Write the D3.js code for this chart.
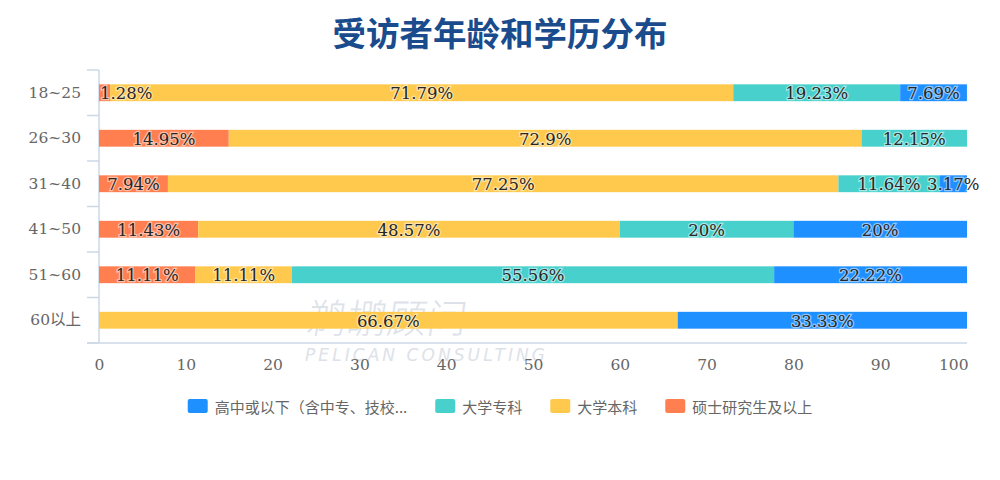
<!DOCTYPE html>
<html>
<head>
<meta charset="utf-8">
<script src="https://cdn.jsdelivr.net/npm/d3@7/dist/d3.min.js"></script>
<style>
  html, body { margin: 0; padding: 0; background: #fff; }
  svg { display: block; }
</style>
</head>
<body>
<svg id="chart" width="1000" height="480"></svg>
<script>
// ---- data ----
const categories = ["18~25", "26~30", "31~40", "41~50", "51~60", "60以上"];
const master     = [1.28, 14.95, 7.94, 11.43, 11.11, 0];      // 硕士研究生及以上
const bachelor   = [71.79, 72.9, 77.25, 48.57, 11.11, 66.67]; // 大学本科
const college    = [19.23, 12.15, 11.64, 20, 55.56, 0];       // 大学专科
const highSchool = [7.69, 0, 3.17, 20, 22.22, 33.33];         // 高中或以下
const xTicks = [0, 10, 20, 30, 40, 50, 60, 70, 80, 90, 100];
const seriesKeys = ["master", "bachelor", "college", "highSchool"];
const seriesColors = {master: "#ff7f50", bachelor: "#ffc94d", college: "#48d1cc", highSchool: "#1e90ff"};
const legendKeys = ["highSchool", "college", "bachelor", "master"];
const legendLabels = ["高中或以下（含中专、技校...", "大学专科", "大学本科", "硕士研究生及以上"];
const titleText = "受访者年龄和学历分布";

(function () {
const rows = categories.map((c, i) => ({
  cat: c, master: master[i], bachelor: bachelor[i], college: college[i], highSchool: highSchool[i]
}));

const svg = d3.select("#chart");
const pLeft = 99, pRight = 967, pTop = 70, pBottom = 343;

const x = d3.scaleLinear().domain([0, 100]).range([pLeft, pRight]);
const y = d3.scaleBand().domain(categories).range([pTop, pBottom]).padding(0);
const barH = y.bandwidth() * 0.37;

// title
svg.append("text")
  .attr("x", 500).attr("y", 31)
  .attr("text-anchor", "middle").attr("dominant-baseline", "central")
  .attr("font-family", "'Noto Sans CJK SC', sans-serif")
  .attr("font-weight", 700).attr("font-size", 33.5)
  .attr("fill", "#1a4b8c")
  .text(titleText);

const serif = "'DejaVu Serif', 'Noto Sans CJK SC', serif";
const axisColor = "#ccd8e6";

// watermark (under bars)
const wm = svg.append("g").attr("fill", "#dde2e9");
wm.append("text").attr("x", 306).attr("y", 333)
  .attr("font-family", "'Noto Sans CJK SC', sans-serif").attr("font-size", 40)
  .attr("font-weight", 300)
  .attr("transform", "translate(46,0) skewX(-8)")
  .text("鹈鹕顾问");
wm.append("text").attr("x", 305).attr("y", 361)
  .attr("font-family", "'DejaVu Sans', sans-serif").attr("font-size", 17)
  .attr("font-style", "italic")
  .attr("textLength", 240).attr("lengthAdjust", "spacing")
  .text("PELICAN CONSULTING");

// bottom axis (line + labels, no ticks)
const xAxis = svg.append("g").attr("transform", `translate(0,${pBottom})`)
  .call(d3.axisBottom(x).tickValues(xTicks).tickSize(0).tickPadding(16).tickFormat(d3.format("d")));
xAxis.select(".domain").remove();
xAxis.append("line").attr("x1", pLeft - 12).attr("x2", pRight).attr("y1", 0).attr("y2", 0)
  .attr("stroke", axisColor).attr("stroke-width", 1.5);
xAxis.selectAll(".tick text")
  .attr("font-family", serif).attr("font-size", 15.5).attr("fill", "#666");
xAxis.selectAll(".tick").filter(d => d === 100).select("text")
  .attr("text-anchor", "end").attr("dx", 1);

// left axis
const yAxisG = svg.append("g");
yAxisG.append("line").attr("x1", pLeft).attr("x2", pLeft).attr("y1", pTop).attr("y2", pBottom)
  .attr("stroke", axisColor).attr("stroke-width", 1.5);
const boundaries = categories.map(c => y(c)).concat([pBottom]);
yAxisG.selectAll("line.tk").data(boundaries).join("line").attr("class", "tk")
  .attr("x1", pLeft - 12).attr("x2", pLeft).attr("y1", d => d).attr("y2", d => d)
  .attr("stroke", axisColor).attr("stroke-width", 1.5);
yAxisG.selectAll("text").data(categories).join("text")
  .attr("x", 81).attr("y", d => y(d) + y.bandwidth() / 2)
  .attr("text-anchor", "end").attr("dominant-baseline", "central")
  .attr("font-family", serif).attr("font-size", 15.5).attr("fill", "#666")
  .text(d => d);

// stacked bars
const stack = d3.stack().keys(seriesKeys)(rows);
const layers = svg.append("g");
stack.forEach(layer => {
  const key = layer.key;
  layers.append("g").selectAll("rect").data(layer.filter(d => d[1] - d[0] > 0)).join("rect")
    .attr("x", d => x(d[0])).attr("width", d => x(d[1]) - x(d[0]))
    .attr("y", d => y(d.data.cat) + (y.bandwidth() - barH) / 2)
    .attr("height", barH)
    .attr("fill", seriesColors[key]);
});

// labels
const labelG = svg.append("g");
stack.forEach(layer => {
  layer.forEach(d => {
    const v = d.data[layer.key];
    if (!(v > 0)) return;
    const cx = (x(d[0]) + x(d[1])) / 2;
    const t = labelG.append("text")
      .attr("x", cx).attr("y", y(d.data.cat) + y.bandwidth() / 2 + 1)
      .attr("text-anchor", "middle").attr("dominant-baseline", "central")
      .attr("font-family", serif).attr("font-size", 16.5)
      .attr("fill", "#262626")
      .attr("stroke", "rgba(255,255,255,0.5)").attr("stroke-width", 2.5)
      .attr("paint-order", "stroke")
      .text(v + "%");
    const w = t.node().getComputedTextLength();
    if (cx - w / 2 < pLeft + 1) {
      t.attr("text-anchor", "start").attr("x", pLeft + 1);
    }
  });
});

// legend
const legend = svg.append("g");
const sqW = 20, sqH = 14, gapText = 7, gapItem = 28, legendY = 406;
const font = "'Noto Sans CJK SC', sans-serif";
let cur = 0;
const items = [];
legendKeys.forEach((k, i) => {
  const g = legend.append("g");
  g.append("rect").attr("x", 0).attr("y", -sqH / 2).attr("width", sqW).attr("height", sqH)
    .attr("rx", 2).attr("fill", seriesColors[k]);
  const t = g.append("text").attr("x", sqW + gapText).attr("y", 0)
    .attr("dominant-baseline", "central")
    .attr("font-family", font).attr("font-size", 15).attr("fill", "#666")
    .text(legendLabels[i]);
  const w = sqW + gapText + t.node().getComputedTextLength();
  items.push({g, off: cur});
  cur += w + gapItem;
});
const total = cur - gapItem;
const startX = 500 - total / 2;
items.forEach(it => it.g.attr("transform", `translate(${startX + it.off},${legendY})`));
})();
</script>
</body>
</html>
